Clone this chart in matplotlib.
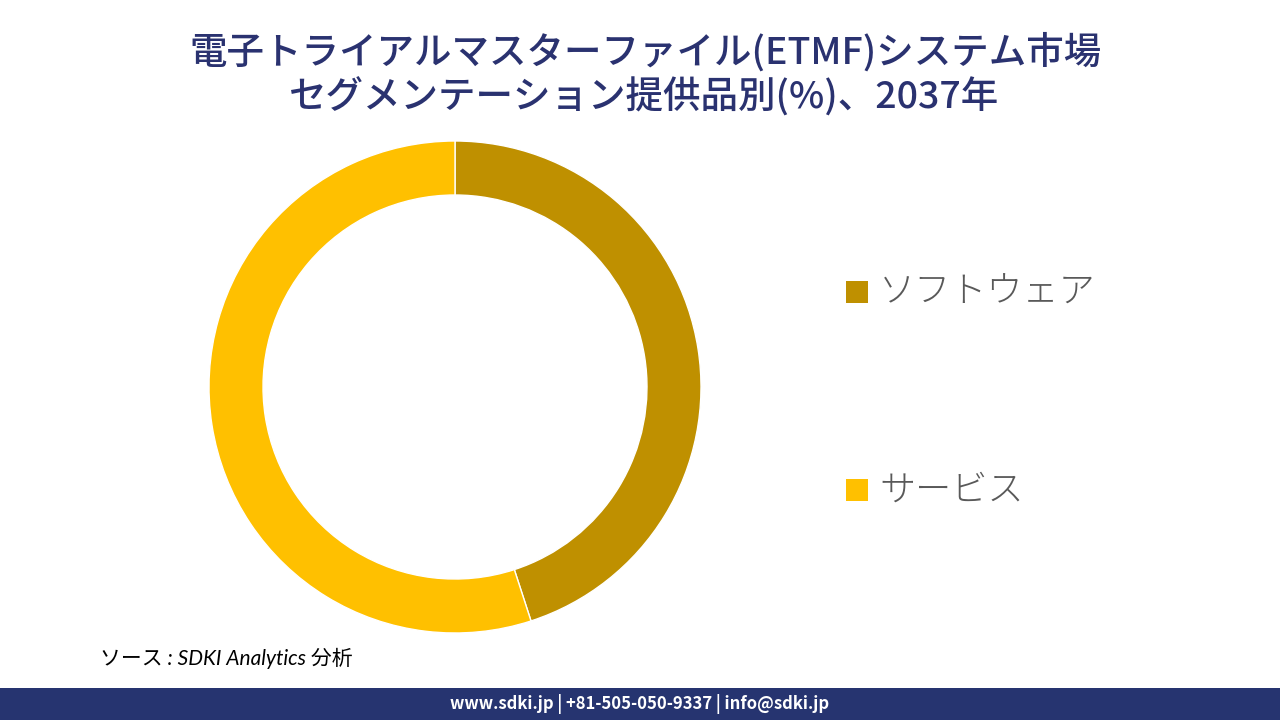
import matplotlib
matplotlib.use("Agg")
import matplotlib.pyplot as plt
from matplotlib.patches import Rectangle

plt.rcParams['font.family'] = ['Noto Sans CJK JP', 'DejaVu Sans']

title_lines = ["電子トライアルマスターファイル(ETMF)システム市場", "セグメンテーション提供品別(%)、2037年"]
categories = ["ソフトウェア", "サービス"]
values = [45, 55]
colors = ["#BF9000", "#FFC000"]
source_text = "ソース : SDKI Analytics 分析"
footer_text = "www.sdki.jp | +81-505-050-9337 | info@sdki.jp"

fig = plt.figure(figsize=(12.8, 7.2), dpi=100)
fig.patch.set_facecolor("white")

# Title
fig.text(0.504, 1 - 52/720, title_lines[0], ha="center", va="center",
         fontsize=27, color="#2A3270", fontweight="medium")
fig.text(0.503, 1 - 97/720, title_lines[1], ha="center", va="center",
         fontsize=27, color="#2A3270", fontweight="medium")

# Donut
cx, cy, half = 455, 387, 250
ax = fig.add_axes([(cx - half)/1280, (720 - cy - half)/720, 2*half/1280, 2*half/720])
ax.pie(values, colors=colors, startangle=90, counterclock=False,
       radius=246/250, wedgeprops=dict(width=54/250, edgecolor="white", linewidth=1))
ax.set_xlim(-1, 1)
ax.set_ylim(-1, 1)
ax.set_aspect("equal")
ax.axis("off")

# Legend
leg_y = [292, 490]
for cat, col, y in zip(categories, colors, leg_y):
    fig.patches.append(Rectangle((846/1280, 1 - (y + 11)/720), 22/1280, 22/720,
                                 transform=fig.transFigure, facecolor=col, edgecolor="none"))
    fig.text(879/1280, 1 - y/720, cat, ha="left", va="center", fontsize=26,
             color="#595959", fontweight="light")

# Source
fig.text(100/1280, 1 - 658/720, source_text, ha="left", va="center",
         fontsize=15, color="black", style="italic",
         family=['Lato', 'Noto Sans CJK JP', 'DejaVu Sans'])

# Footer bar
fig.patches.append(Rectangle((0, 0), 1, 32/720, transform=fig.transFigure,
                             facecolor="#263470", edgecolor="none"))
fig.text(0.5, 16/720, footer_text, ha="center", va="center", fontsize=12,
         color="white", fontweight="bold")

fig.savefig("out.png", dpi=100)
